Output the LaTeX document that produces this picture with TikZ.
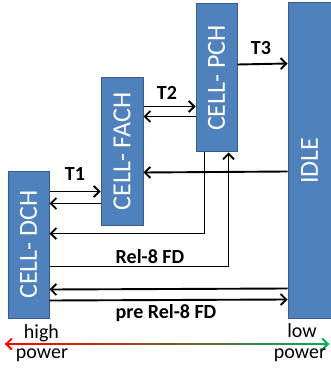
\documentclass[tikz,border=0pt]{standalone}
\usepackage{fontspec}
\setmainfont{Carlito}
\usepackage{graphicx}
\usepackage{tikz}
\usetikzlibrary{arrows.meta, positioning}
\definecolor{stateblue}{RGB}{79,129,189}
\definecolor{stateline}{RGB}{56,93,138}
\definecolor{lowgreen}{RGB}{0,176,80}

\begin{document}
\begin{tikzpicture}[
    x=1pt, y=-1pt,
    state/.style={rectangle, draw=stateline, fill=stateblue, line width=1pt, minimum width=41pt, inner sep=0pt, text=white, font=\fontsize{26}{26}\selectfont},
    arrow/.style={-{Straight Barb[length=5.5pt,width=11pt]}, line width=1.9pt},
    label/.style={font=\fontsize{20}{20}\selectfont\bfseries, anchor=base},
    power/.style={font=\fontsize{20}{20}\selectfont, anchor=base}
]
\useasboundingbox (0,0) rectangle (330,371);

% states
\node[state, minimum height=147pt] (dch) at (28.5,244.5) {\rotatebox{90}{CELL- DCH}};
\node[state, minimum height=147pt, minimum width=42pt] (fach) at (122,151.5) {\rotatebox{90}{CELL- FACH}};
\node[state, minimum height=148pt] (pch) at (216.5,78) {\rotatebox{90}{CELL- PCH}};
\node[state, minimum height=315pt, minimum width=43pt] (idle) at (309.5,160.5) {\rotatebox{90}{IDLE}};

% transitions
\draw[arrow] ([yshift=-21pt]dch.north east) -- ([yshift=-114pt]fach.north west);
\draw[arrow] ([yshift=-126pt]fach.north west) -- ([yshift=-33pt]dch.north east);
\draw[arrow] ([yshift=-29pt]fach.north east) -- ([yshift=-103pt]pch.north west);
\draw[arrow] ([yshift=-113pt]pch.north west) -- ([yshift=-39pt]fach.north east);
\draw[arrow] ([yshift=-61pt]pch.north east) -- ([yshift=-61pt]idle.north west);
\draw[arrow] ([yshift=-169pt]idle.north west) -- ([yshift=-95pt]fach.north east);
\draw[arrow] ([xshift=9pt]pch.south west) |- ([yshift=-63pt]dch.north east);
\draw[arrow] ([yshift=-96pt]dch.north east) -| ([xshift=-9pt]pch.south east);
\draw[arrow] ([yshift=-286pt]idle.north west) -- ([yshift=-119pt]dch.north east);
\draw[arrow] ([yshift=-130pt]dch.north east) -- ([yshift=-297pt]idle.north west);

% labels
\node[label] (t1) at (75,180) {T1};
\node[label] (t2) at (167,100) {T2};
\node[label] (t3) at (261,55) {T3};
\node[label] (rel) at (150,263) {Rel-8 FD};
\node[label] (prerel) at (166,318) {pre Rel-8 FD};

% power axis
\coordinate (hp) at (5,344);
\coordinate (lp) at (329,344);
\shade[left color=red, middle color=white, right color=lowgreen] ([yshift=0.9pt]hp) rectangle ([yshift=-0.9pt]lp);
\draw[arrow, red] ([xshift=8pt]hp) -- (hp);
\draw[arrow, lowgreen] ([xshift=-8pt]lp) -- (lp);
\node[power] (high) at (41.5,338) {high};
\node[power] (hpower) at (42,358) {power};
\node[power] (low) at (302,337) {low};
\node[power] (lpower) at (300,358) {power};

\end{tikzpicture}
\end{document}
